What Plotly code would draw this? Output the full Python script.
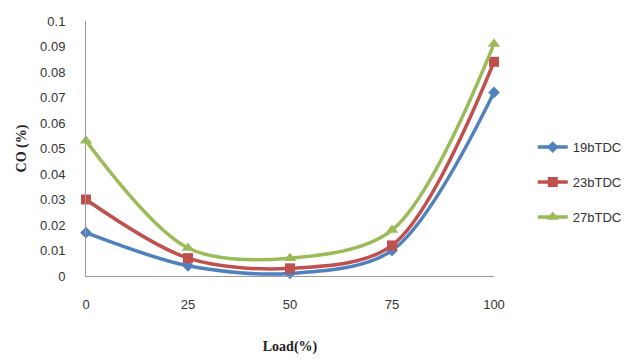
import plotly.graph_objects as go

loads = [0, 25, 50, 75, 100]
co_19 = [0.017, 0.004, 0.001, 0.010, 0.072]
co_23 = [0.030, 0.007, 0.003, 0.012, 0.084]
co_27 = [0.053, 0.011, 0.007, 0.018, 0.091]
series = [
    ("19bTDC", co_19, "#4F81BD", "diamond", 9),
    ("23bTDC", co_23, "#C0504D", "square", 10),
    ("27bTDC", co_27, "#9BBB59", "triangle-up", 11),
]
y_ticks = [0, 0.01, 0.02, 0.03, 0.04, 0.05, 0.06, 0.07, 0.08, 0.09, 0.1]
y_tick_text = ["0", "0.01", "0.02", "0.03", "0.04", "0.05", "0.06", "0.07", "0.08", "0.09", "0.1"]

fig = go.Figure()
for name, vals, col, sym, sz in series:
    fig.add_trace(go.Scatter(
        x=loads, y=vals, name=name, legendgroup=name,
        mode="lines+markers",
        line=dict(color=col, width=3.5, shape="spline", smoothing=0.9),
        marker=dict(color=col, symbol=sym, size=sz),
        cliponaxis=False,
    ))

tick_font = dict(family="Liberation Sans, Arial, sans-serif", size=13, color="#333333")
fig.update_layout(
    width=639, height=363,
    margin=dict(l=86, r=143, t=21, b=84),
    paper_bgcolor="white", plot_bgcolor="white",
    showlegend=True,
    legend=dict(x=1.095, y=0.368, xanchor="left", yanchor="middle",
                font=tick_font, traceorder="grouped", tracegroupgap=15,
                bgcolor="rgba(0,0,0,0)"),
    xaxis=dict(range=[0, 100], tickvals=loads, ticktext=[str(v) for v in loads],
               showgrid=False, zeroline=False, showline=True, linecolor="#999999",
               linewidth=1, ticks="", ticklabelstandoff=16, tickfont=tick_font,
               title=dict(text="<b>Load(%)</b>", standoff=30,
                          font=dict(family="Liberation Serif, Times New Roman, serif", size=14, color="#222222"))),
    yaxis=dict(range=[0, 0.1], tickvals=y_ticks, ticktext=y_tick_text,
               showgrid=False, zeroline=False, showline=True, linecolor="#999999",
               linewidth=1, ticks="", ticklabelstandoff=17, tickfont=tick_font,
               title=dict(text="<b>CO (%)</b>", standoff=10,
                          font=dict(family="Liberation Serif, Times New Roman, serif", size=14, color="#222222"))),
)
fig.write_html("out.html")
